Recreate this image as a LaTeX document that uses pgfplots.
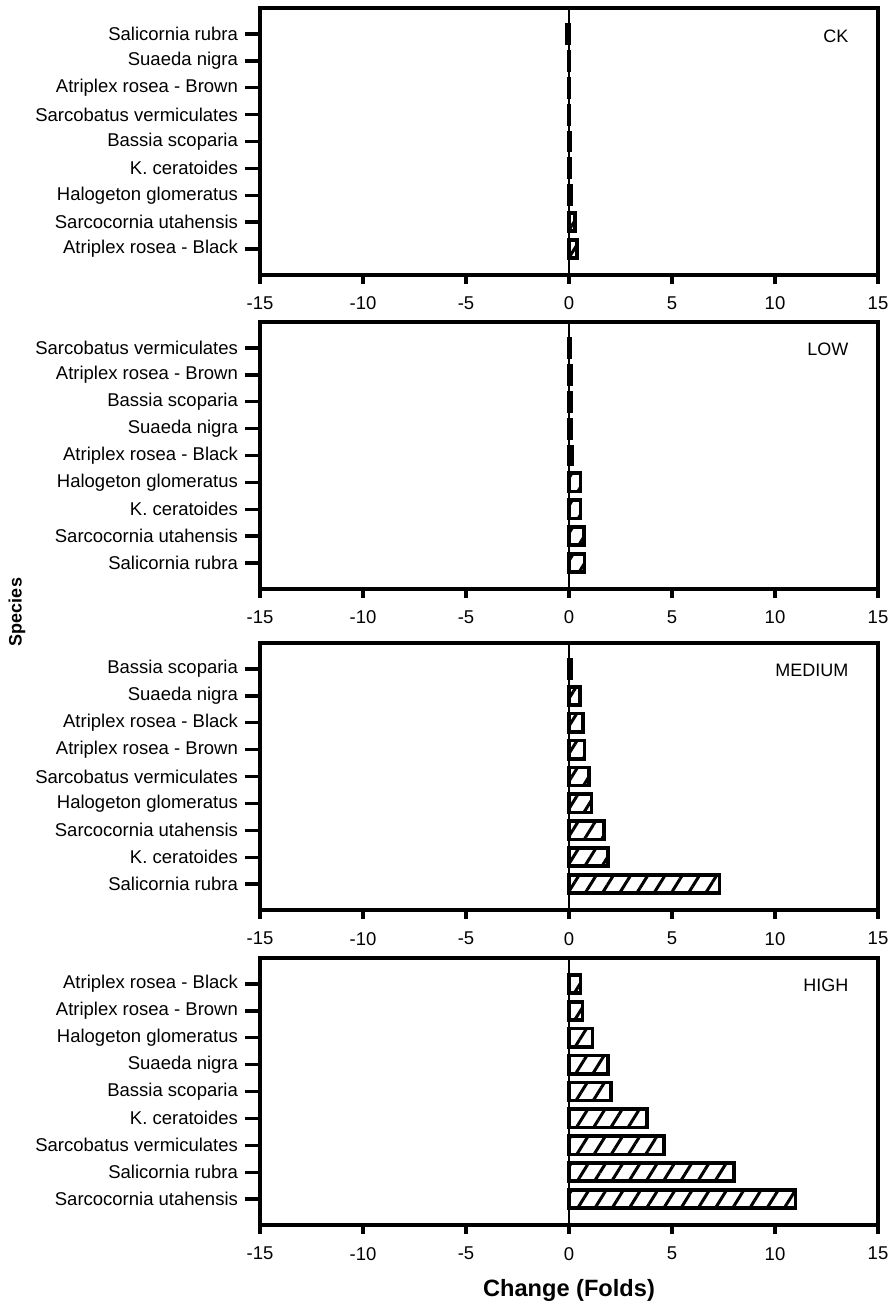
\documentclass[border=0pt]{standalone}
\usepackage{fontspec}
\setmainfont{Liberation Sans}
\usepackage{pgfplots}
\pgfplotsset{compat=1.18}
\usetikzlibrary{patterns.meta}

\pgfplotsset{
  panel/.style={
    width=309pt, height=133.5pt, scale only axis,
    xmin=-15, xmax=15, ymin=-0.97, ymax=8.97, y dir=reverse,
    xtick={-15,-10,-5,0,5,10,15},
    xticklabels={-15,-10,-5,0,5,10,15},
    ytick={0,...,8},
    xtick pos=bottom, ytick pos=left, tick align=outside,
    axis line style={line width=1.6pt},
    major tick length=7.5pt,
    xtick style={/pgfplots/major tick length=4.5pt},
    tick style={line width=1.6pt, black},
    ticklabel style={font=\fontsize{9.25}{11}\selectfont},
    clip=false,
  },
  bars/.style={
    xbar, bar width=0.68, draw=black, line width=1.8pt,
    pattern={Lines[angle=58,distance=7.3pt,line width=1.5pt]},
  },
}

\begin{document}
\begin{tikzpicture}
\useasboundingbox (0,0) rectangle (446pt,-653pt);

% CK
\begin{axis}[panel, at={(130pt,-4pt)}, anchor=north west,
  yticklabels={Salicornia rubra, Suaeda nigra, Atriplex rosea - Brown, Sarcobatus vermiculates, Bassia scoparia, K. ceratoides, Halogeton glomeratus, Sarcocornia utahensis, Atriplex rosea - Black}]
\draw[line width=1.45pt] (axis cs:0,-0.97) -- (axis cs:0,8.97);
\addplot[bars] coordinates {(-0.1,0) (0.02,1) (0.02,2) (0.03,3) (0.06,4) (0.07,5) (0.1,6) (0.28,7) (0.38,8)};
\node[anchor=east, font=\fontsize{9}{11}\selectfont] at (axis cs:13.9,0.1) {CK};
\end{axis}

% LOW
\begin{axis}[panel, at={(130pt,-161pt)}, anchor=north west,
  yticklabels={Sarcobatus vermiculates, Atriplex rosea - Brown, Bassia scoparia, Suaeda nigra, Atriplex rosea - Black, Halogeton glomeratus, K. ceratoides, Sarcocornia utahensis, Salicornia rubra}]
\draw[line width=1.45pt] (axis cs:0,-0.97) -- (axis cs:0,8.97);
\addplot[bars] coordinates {(0.08,0) (0.09,1) (0.12,2) (0.13,3) (0.14,4) (0.55,5) (0.56,6) (0.72,7) (0.76,8)};
\node[anchor=east, font=\fontsize{9}{11}\selectfont] at (axis cs:13.9,0.05) {LOW};
\end{axis}

% MEDIUM
\begin{axis}[panel, at={(130pt,-321.5pt)}, anchor=north west,
  yticklabels={Bassia scoparia, Suaeda nigra, Atriplex rosea - Black, Atriplex rosea - Brown, Sarcobatus vermiculates, Halogeton glomeratus, Sarcocornia utahensis, K. ceratoides, Salicornia rubra}]
\draw[line width=1.45pt] (axis cs:0,-0.97) -- (axis cs:0,8.97);
\addplot[bars] coordinates {(0.13,0) (0.53,1) (0.69,2) (0.76,3) (0.96,4) (1.1,5) (1.69,6) (1.9,7) (7.3,8)};
\node[anchor=east, font=\fontsize{9}{11}\selectfont] at (axis cs:13.9,0.05) {MEDIUM};
\end{axis}

% HIGH
\begin{axis}[panel, at={(130pt,-479pt)}, anchor=north west,
  yticklabels={Atriplex rosea - Black, Atriplex rosea - Brown, Halogeton glomeratus, Suaeda nigra, Bassia scoparia, K. ceratoides, Sarcobatus vermiculates, Salicornia rubra, Sarcocornia utahensis}]
\draw[line width=1.45pt] (axis cs:0,-0.97) -- (axis cs:0,8.97);
\addplot[bars] coordinates {(0.55,0) (0.65,1) (1.15,2) (1.9,3) (2.05,4) (3.8,5) (4.6,6) (8.0,7) (11.0,8)};
\node[anchor=east, font=\fontsize{9}{11}\selectfont] at (axis cs:13.9,0.05) {HIGH};
\end{axis}

\node[rotate=90, font=\fontsize{9}{11}\selectfont\bfseries] at (8.5pt,-306pt) {Species};
\node[font=\fontsize{11.8}{13}\selectfont\bfseries] at (284.5pt,-645pt) {Change (Folds)};
\end{tikzpicture}
\end{document}
